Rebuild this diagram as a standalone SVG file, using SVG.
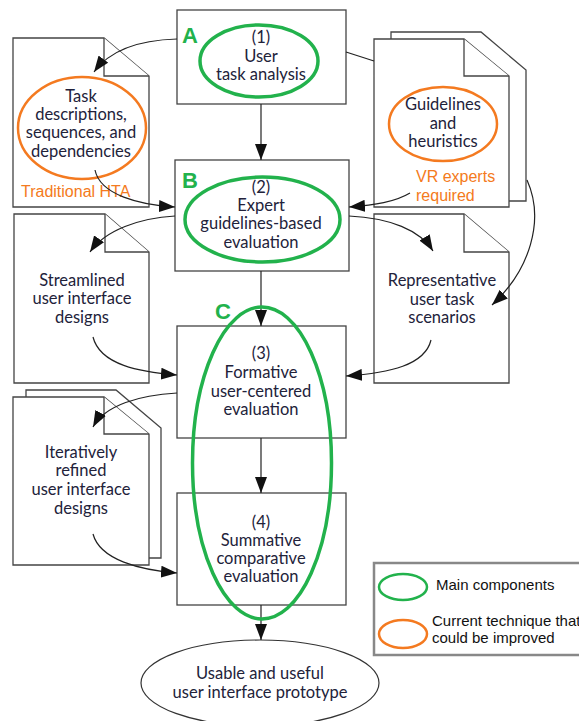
<svg xmlns="http://www.w3.org/2000/svg" width="579" height="721" viewBox="0 0 579 721">
<defs>
<marker id="ah" viewBox="0 0 16 12" refX="16" refY="6" markerWidth="16" markerHeight="12" markerUnits="userSpaceOnUse" orient="auto">
<path d="M0,0 L16,6 L0,12 Z" fill="#111"/>
</marker>
</defs>
<style>
.box{fill:#fff;stroke:#444;stroke-width:1.3}
.doc{fill:#fff;stroke:#444;stroke-width:1.3;stroke-linejoin:miter}
.t{font-family:Lato,"Noto Sans",sans-serif;font-size:16.5px;fill:#22223a;text-anchor:middle}
.o{font-family:"Liberation Sans",Arial,sans-serif;font-size:16px;fill:#f47a20}
.g{fill:none;stroke:#22b24c;stroke-width:3.5}
.og{fill:none;stroke:#f47a20;stroke-width:2.5}
.L{font-family:"Liberation Sans",Arial,sans-serif;font-size:15px;fill:#111}
.gl{font-family:"Liberation Sans",Arial,sans-serif;font-size:22px;font-weight:bold;fill:#22b24c}
.c{fill:none;stroke:#222;stroke-width:1.2}
</style>
<rect width="579" height="721" fill="#fff"/>

<g id="doc-task">
<path class="doc" d="M13,38 L104,38 L149,76 L149,207 L13,207 Z"/>
<path class="doc" d="M104,38 L104,76 L149,76"/>
<ellipse class="og" cx="82" cy="128" rx="64" ry="51"/>
<text class="t" x="81" y="102">Task</text>
<text class="t" x="81" y="120">descriptions,</text>
<text class="t" x="81" y="138">sequences, and</text>
<text class="t" x="81" y="157">dependencies</text>
<text class="o" x="21" y="197">Traditional HTA</text>
</g>

<g id="doc-guidelines">
<path class="doc" d="M391,32 L481,32 L526,70 L526,201 L391,201 Z"/>
<path class="doc" d="M374,39 L464,39 L509,76 L509,207 L374,207 Z"/>
<path class="doc" d="M464,39 L464,76 L509,76"/>
<ellipse class="og" cx="443" cy="124" rx="54" ry="37"/>
<text class="t" x="443" y="110">Guidelines</text>
<text class="t" x="443" y="129">and</text>
<text class="t" x="443" y="147">heuristics</text>
<text class="o" x="416" y="182">VR experts</text>
<text class="o" x="416" y="201">required</text>
</g>

<g id="doc-streamlined">
<path class="doc" d="M14,214 L105,214 L149,252 L149,383 L14,383 Z"/>
<path class="doc" d="M105,214 L105,252 L149,252"/>
<text class="t" x="82" y="286">Streamlined</text>
<text class="t" x="82" y="304">user interface</text>
<text class="t" x="82" y="323">designs</text>
</g>

<g id="doc-representative">
<path class="doc" d="M374,214 L464,214 L509,252 L509,383 L374,383 Z"/>
<path class="doc" d="M464,214 L464,252 L509,252"/>
<text class="t" x="442" y="286">Representative</text>
<text class="t" x="442" y="305">user task</text>
<text class="t" x="442" y="323">scenarios</text>
</g>

<g id="doc-iterative">
<path class="doc" d="M26,390 L116,390 L161,428 L161,558 L26,558 Z"/>
<path class="doc" d="M13,397 L104,397 L149,434 L149,565 L13,565 Z"/>
<path class="doc" d="M104,397 L104,434 L149,434"/>
<text class="t" x="81" y="458">Iteratively</text>
<text class="t" x="81" y="476">refined</text>
<text class="t" x="81" y="495">user interface</text>
<text class="t" x="81" y="514">designs</text>
</g>

<g id="box1">
<rect class="box" x="177" y="10" width="169" height="94"/>
<ellipse class="g" cx="259" cy="61" rx="59" ry="36"/>
<text class="t" x="261" y="43">(1)</text>
<text class="t" x="261" y="62">User</text>
<text class="t" x="261" y="80">task analysis</text>
<text class="gl" x="182" y="43">A</text>
</g>

<g id="box2">
<rect class="box" x="175" y="160" width="174" height="111"/>
<ellipse class="g" cx="262.5" cy="219.5" rx="77.5" ry="42.5"/>
<text class="t" x="261" y="193">(2)</text>
<text class="t" x="261" y="211">Expert</text>
<text class="t" x="261" y="229">guidelines-based</text>
<text class="t" x="261" y="248">evaluation</text>
<text class="gl" x="182" y="188">B</text>
</g>

<g id="box3">
<rect class="box" x="177" y="326" width="169" height="112"/>
<text class="t" x="261" y="359">(3)</text>
<text class="t" x="261" y="378">Formative</text>
<text class="t" x="261" y="397">user-centered</text>
<text class="t" x="261" y="415">evaluation</text>
</g>

<g id="box4">
<rect class="box" x="177" y="493" width="169" height="112"/>
<text class="t" x="261" y="528">(4)</text>
<text class="t" x="261" y="546">Summative</text>
<text class="t" x="261" y="564">comparative</text>
<text class="t" x="261" y="582">evaluation</text>
</g>

<g id="result">
<ellipse fill="#fff" stroke="#333" stroke-width="1.2" cx="260" cy="683" rx="119" ry="43"/>
<text class="t" x="260" y="679">Usable and useful</text>
<text class="t" x="260" y="698">user interface prototype</text>
</g>

<g id="connectors">
<path class="c" d="M177,39 C140,40 110,50 94,72" marker-end="url(#ah)"/>
<path class="c" d="M346,52 L374,61"/>
<path class="c" d="M261,104 L261,160" marker-end="url(#ah)"/>
<path class="c" d="M95,170 C100,195 140,205 175,207" marker-end="url(#ah)"/>
<path class="c" d="M410,193 C395,202 375,205 349,207" marker-end="url(#ah)"/>
<path class="c" d="M527,180 C545,220 530,270 492,305" marker-end="url(#ah)"/>
<path class="c" d="M175,216 C140,218 105,230 90,252" marker-end="url(#ah)"/>
<path class="c" d="M349,216 C390,218 420,230 433,251" marker-end="url(#ah)"/>
<path class="c" d="M261,271 L261,326" marker-end="url(#ah)"/>
<path class="c" d="M93,337 C100,365 140,372 177,375" marker-end="url(#ah)"/>
<path class="c" d="M431,340 C425,365 390,373 346,376" marker-end="url(#ah)"/>
<path class="c" d="M177,393 C140,395 105,405 93,427" marker-end="url(#ah)"/>
<path class="c" d="M261,438 L261,493" marker-end="url(#ah)"/>
<path class="c" d="M93,534 C100,560 140,570 177,573" marker-end="url(#ah)"/>
<path class="c" d="M261,605 L261,640" marker-end="url(#ah)"/>
</g>

<g id="groupC">
<ellipse class="g" cx="262" cy="463" rx="69.5" ry="156"/>
<text class="gl" x="215" y="319">C</text>
</g>

<g id="legend">
<rect x="374" y="563" width="220" height="92" fill="#fff" stroke="#888" stroke-width="2.5"/>
<ellipse fill="none" stroke="#22b24c" stroke-width="2.5" cx="403" cy="587" rx="24" ry="13"/>
<text class="L" x="436" y="590">Main components</text>
<ellipse fill="none" stroke="#f47a20" stroke-width="2.5" cx="403" cy="634" rx="24" ry="14"/>
<text class="L" x="432" y="626">Current technique that</text>
<text class="L" x="432" y="643">could be improved</text>
</g>
</svg>
